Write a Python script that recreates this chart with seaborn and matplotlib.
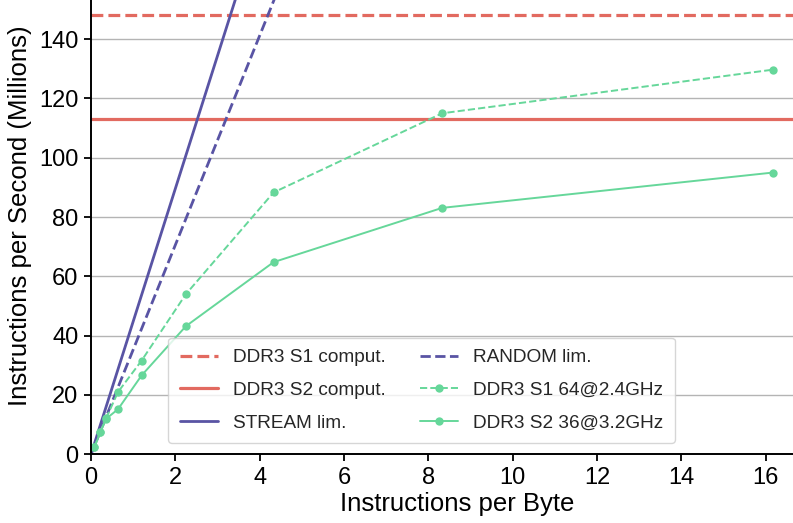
import matplotlib
matplotlib.use("Agg")
import matplotlib.pyplot as plt
import numpy as np
import pandas as pd
import seaborn as sns

# Measured throughput vs. arithmetic intensity
ipb = [0.08, 0.22, 0.36, 0.64, 1.2, 2.25, 4.33, 8.33, 16.17]
s1_64_24 = [2.4, 7.6, 12.2, 21.0, 31.6, 54.0, 88.3, 115.0, 129.7]
s2_36_32 = [2.4, 7.4, 12.0, 15.2, 26.6, 43.2, 64.8, 83.1, 95.0]

# Compute ceilings (millions of instructions per second)
s1_comput = 148.3
s2_comput = 113.2

# Bandwidth limits as slopes (M instr/s per instr/byte)
stream_slope = 44.8
random_slope = 35.3

RED = "#e26a60"
PURPLE = "#5954a4"
GREEN = "#66d79a"

sns.set_theme(style="whitegrid")
plt.rcParams["font.family"] = ["Liberation Sans", "DejaVu Sans"]

fig = plt.figure(figsize=(7.93, 5.23), dpi=100)
ax = fig.add_axes([0.1148, 0.1314, 0.8852, 0.8686])

df = pd.DataFrame({"ipb": ipb, "S1": s1_64_24, "S2": s2_36_32})
lim_x = np.array([0.0, max(ipb)])
lims = pd.DataFrame({
    "x": lim_x,
    "stream": stream_slope * lim_x,
    "random": random_slope * lim_x,
})

ax.axhline(s1_comput, color=RED, lw=2.3, ls="--", label="DDR3 S1 comput.")
ax.axhline(s2_comput, color=RED, lw=2.3, ls="-", label="DDR3 S2 comput.")
sns.lineplot(data=lims, x="x", y="stream", ax=ax, color=PURPLE, lw=2.0,
             label="STREAM lim.")
sns.lineplot(data=lims, x="x", y="random", ax=ax, color=PURPLE, lw=2.0,
             ls="--", label="RANDOM lim.")
sns.lineplot(data=df, x="ipb", y="S1", ax=ax, color=GREEN, lw=1.4, ls="--",
             marker="o", markersize=6, markeredgewidth=0,
             label="DDR3 S1 64@2.4GHz")
sns.lineplot(data=df, x="ipb", y="S2", ax=ax, color=GREEN, lw=1.4,
             marker="o", markersize=6, markeredgewidth=0,
             label="DDR3 S2 36@3.2GHz")

ax.set_xlim(0, 16.65)
ax.set_ylim(0, 153.2)
ax.set_xticks(np.arange(0, 17, 2))
ax.set_yticks(np.arange(0, 141, 20))

ax.set_xlabel("Instructions per Byte", fontsize=18.5, color="black",
              va="center")
ax.set_ylabel("Instructions per Second (Millions)", fontsize=18.5,
              color="black", va="center")
ax.xaxis.set_label_coords(0.522, -0.110)
ax.yaxis.set_label_coords(-0.101, 0.525)
ax.tick_params(axis="both", labelsize=17, colors="black", length=5,
               width=1.3, direction="out", left=True, bottom=True, pad=4)

ax.grid(axis="x", visible=False)
ax.grid(axis="y", color="#b4b4b4", lw=1.0)
for side in ("top", "right"):
    ax.spines[side].set_visible(False)
for side in ("left", "bottom"):
    ax.spines[side].set_color("black")
    ax.spines[side].set_linewidth(1.4)

leg = ax.legend(ncol=2, fontsize=13.7, loc="lower left",
                bbox_to_anchor=(0.110, 0.025), borderaxespad=0,
                frameon=True, framealpha=0.8, handlelength=2.0,
                columnspacing=1.8, labelspacing=0.8, borderpad=0.6)
leg.get_frame().set_edgecolor("#cccccc")

fig.savefig("out.png", dpi=100, facecolor="white")
